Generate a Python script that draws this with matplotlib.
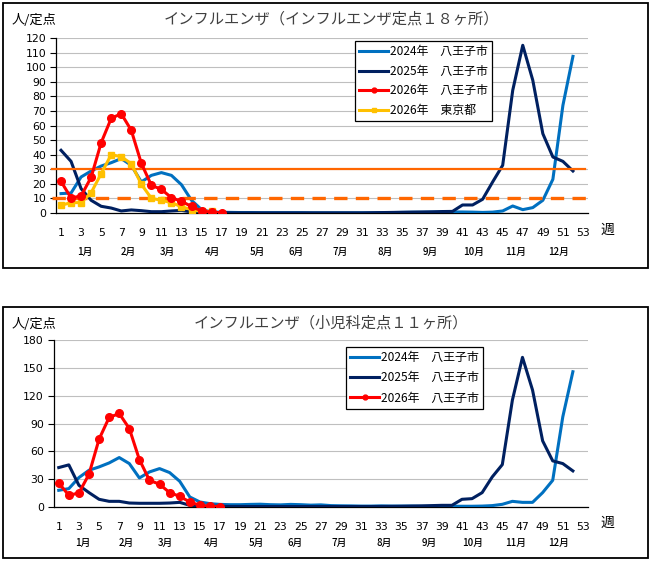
import matplotlib
matplotlib.use("Agg")
import matplotlib.pyplot as plt
from matplotlib.patches import Rectangle
from matplotlib.transforms import blended_transform_factory

plt.rcParams['font.family'] = ['DejaVu Sans', 'Noto Sans CJK JP']
JP = ['Noto Sans CJK JP', 'DejaVu Sans']

# ---------------- data ----------------
weeks_full = list(range(1, 53))

top_2024 = [13.3, 13.7, 24.7, 28.8, 32.2, 34.5, 37.3, 32.7, 21.3, 25.8, 27.7, 25.8, 19.4, 8.7, 2.3, 0.7,
            0.5, 0.4, 0.3, 0.3, 0.2, 0.2, 0.2, 0.2, 0.2, 0.1, 0.1, 0.1, 0.1, 0.1, 0.1, 0.1, 0.2, 0.3,
            0.4, 0.5, 0.5, 0.6, 0.6, 0.7, 0.7, 0.6, 0.4, 0.6,
            1.4, 4.8, 2.3, 3.7, 8.7, 23.1, 73.8, 107.4]
top_2025 = [43.0, 35.4, 16.7, 8.7, 4.6, 3.4, 1.4, 2.1, 1.6, 0.9, 0.9, 1.4, 1.8, 0.7,
            0.4, 0.3, 0.2, 0.1, 0.1, 0.1, 0.1, 0.1, 0.1, 0.1, 0.1, 0.1, 0.1, 0.1, 0.1, 0.1, 0.1, 0.2, 0.3, 0.4,
            0.5, 0.6, 0.7, 0.8, 1.0, 1.1,
            5.5, 5.5, 9.4, 21.3, 32.7, 84.1, 115.0, 91.0, 54.4, 38.4, 35.4, 28.8]
top_2026 = [21.7, 10.3, 11.7, 24.5, 48.2, 64.9, 68.1, 56.7, 34.1, 19.0, 16.2, 10.5, 8.0, 4.5, 1.4, 0.5, 0.1]
top_tokyo = [5.3, 7.1, 7.1, 13.9, 27.0, 40.0, 38.6, 33.8, 19.7, 10.1, 8.7, 7.1, 4.3, 2.3, 1.1, 1.1]
top_alert = 30      # 警報レベル
top_warn = 10       # 注意報レベル

bot_2024 = [18.0, 19.8, 31.7, 39.6, 43.2, 47.5, 53.3, 46.8, 31.3, 37.8, 41.4, 37.1, 27.7, 10.8, 5.4, 3.6,
            2.8, 2.5, 2.5, 2.8, 3.0, 2.5, 2.3, 2.8, 2.5, 2.0, 2.3, 1.5, 1.3, 1.2, 1.0, 1.0, 1.2, 1.0,
            1.0, 1.0, 0.8, 0.8, 0.8, 0.8, 0.8, 0.8, 1.0, 1.5,
            2.9, 6.1, 5.0, 5.0, 15.5, 28.8, 97.2, 145.8]
bot_2025 = [42.5, 45.4, 23.4, 15.5, 8.3, 6.1, 6.1, 4.3, 4.0, 4.0, 4.0, 4.3, 5.0, 1.8,
            1.0, 0.8, 0.7, 0.6, 0.6, 0.5, 0.5, 0.5, 0.5, 0.5, 0.5, 0.5, 0.5, 0.5, 0.5, 0.5, 0.5, 0.5,
            0.6, 0.7, 0.8, 1.0, 1.2, 1.5,
            1.8, 1.8, 8.3, 9.0, 15.5, 32.4, 45.7, 115.2, 161.3, 126.0, 71.3, 49.7, 46.8, 38.9]
bot_2026 = [25.9, 12.6, 15.1, 35.3, 73.1, 96.5, 100.8, 84.6, 51.1, 28.8, 24.5, 15.5, 11.5, 5.4, 1.8, 0.7, 0.4]

x_ticks = list(range(1, 54, 2))
months = ['1月', '2月', '3月', '4月', '5月', '6月', '7月', '8月', '9月', '10月', '11月', '12月']
month_pos = [3.4, 7.7, 11.6, 16.1, 20.6, 24.4, 28.8, 33.3, 37.8, 42.1, 46.3, 50.6]

top_title = 'インフルエンザ（インフルエンザ定点１８ヶ所）'
bot_title = 'インフルエンザ（小児科定点１１ヶ所）'
lab_2024 = '2024年　八王子市'
lab_2025 = '2025年　八王子市'
lab_2026 = '2026年　八王子市'
lab_tokyo = '2026年　東京都'

C24 = '#0070C0'
C25 = '#002060'
C26 = '#FF0000'
CTK = '#FFC000'
CORG = '#FF6600'

W, H = 652, 563
fig = plt.figure(figsize=(W / 100, H / 100), dpi=100)


def fx(px):
    return px / W


def fy(py):
    return 1 - py / H


# panel borders
for (x0, y0, x1, y1) in [(3, 3, 648, 268), (3, 307, 648, 558)]:
    fig.patches.append(Rectangle((fx(x0), fy(y1)), fx(x1 - x0), (y1 - y0) / H,
                                 transform=fig.transFigure, fill=False,
                                 edgecolor='black', linewidth=1.3))


def style_axes(ax, ymax, ystep):
    ax.set_xlim(0.5, 53.5)
    ax.set_ylim(0, ymax)
    ax.set_yticks(range(0, ymax + 1, ystep))
    ax.set_xticks(x_ticks)
    ax.tick_params(axis='x', length=0, pad=11, labelsize=7.8)
    ax.tick_params(axis='y', length=4, width=0.8, direction='out', labelsize=7.8, pad=3)
    ax.grid(axis='y', color='#BFBFBF', linewidth=0.8)
    ax.set_axisbelow(True)
    for s in ['top', 'right']:
        ax.spines[s].set_visible(False)
    ax.spines['left'].set_linewidth(0.9)
    ax.spines['bottom'].set_linewidth(0.9)


# ---------------- top chart ----------------
ax1 = fig.add_axes([fx(56), fy(213), fx(588 - 56), (213 - 38) / H])
style_axes(ax1, 120, 10)
ax1.plot(weeks_full, top_2024, color=C24, lw=2.2, label=lab_2024, zorder=3)
ax1.plot(weeks_full, top_2025, color=C25, lw=2.2, label=lab_2025, zorder=3)
ax1.axhline(top_alert, xmin=-0.008, xmax=0.995, color=CORG, lw=1.6, zorder=4, clip_on=False)
ax1.axhline(top_warn, xmin=-0.008, xmax=1.0, color=CORG, lw=2.4, ls=(0, (4, 2.5)), zorder=4, clip_on=False)
ax1.plot(range(1, len(top_tokyo) + 1), top_tokyo, color=CTK, lw=2.2, marker='s', ms=4.5,
         label=lab_tokyo, zorder=5)
ax1.plot(range(1, len(top_2026) + 1), top_2026, color=C26, lw=2.2, marker='o', ms=5.5,
         label=lab_2026, zorder=6)
h, l = ax1.get_legend_handles_labels()
order = [l.index(lab_2024), l.index(lab_2025), l.index(lab_2026), l.index(lab_tokyo)]
leg1 = ax1.legend([h[i] for i in order], [l[i] for i in order], loc='upper left',
                  bbox_to_anchor=(fx(355), fy(41)), bbox_transform=fig.transFigure,
                  fancybox=False, edgecolor='black', framealpha=1, borderpad=0.35,
                  handlelength=2.4, handletextpad=0.2, labelspacing=0.55,
                  prop={'family': JP, 'size': 8.6}, borderaxespad=0)
leg1.get_frame().set_linewidth(0.9)
for lh in leg1.legend_handles:
    lh.set_markersize(3.5)

# ---------------- bottom chart ----------------
ax2 = fig.add_axes([fx(53.7), fy(507), fx(588 - 53.7), (507 - 340) / H])
style_axes(ax2, 180, 30)
ax2.plot(weeks_full, bot_2024, color=C24, lw=2.2, label=lab_2024, zorder=3)
ax2.plot(weeks_full, bot_2025, color=C25, lw=2.2, label=lab_2025, zorder=3)
ax2.plot(range(1, len(bot_2026) + 1), bot_2026, color=C26, lw=2.2, marker='o', ms=5.5,
         label=lab_2026, zorder=6)
leg2 = ax2.legend(loc='upper left', bbox_to_anchor=(fx(346), fy(347)), bbox_transform=fig.transFigure,
                  fancybox=False, edgecolor='black', framealpha=1, borderpad=0.35,
                  handlelength=2.4, handletextpad=0.2, labelspacing=0.6,
                  prop={'family': JP, 'size': 8.6}, borderaxespad=0)
leg2.get_frame().set_linewidth(0.9)
for lh in leg2.legend_handles:
    lh.set_markersize(3.5)

# ---------------- texts ----------------
for ax, title_txt, ty, my, wy in [(ax1, top_title, 19, 252, 230), (ax2, bot_title, 323, 543, 523)]:
    fig.text(fx(331), fy(ty), title_txt, ha='center', va='center', fontsize=11,
             color='#404040', family=JP)
    fig.text(fx(12), fy(ty + 1), '人/定点', ha='left', va='center', fontsize=9.5, family=JP)
    fig.text(fx(607), fy(wy), '週', ha='center', va='center', fontsize=10, family=JP)
    tr = blended_transform_factory(ax.transData, fig.transFigure)
    for m, p in zip(months, month_pos):
        ax.text(p, fy(my), m, ha='center', va='center', fontsize=7, family=JP,
                fontweight='medium', transform=tr)

fig.savefig('out.png', dpi=100)
